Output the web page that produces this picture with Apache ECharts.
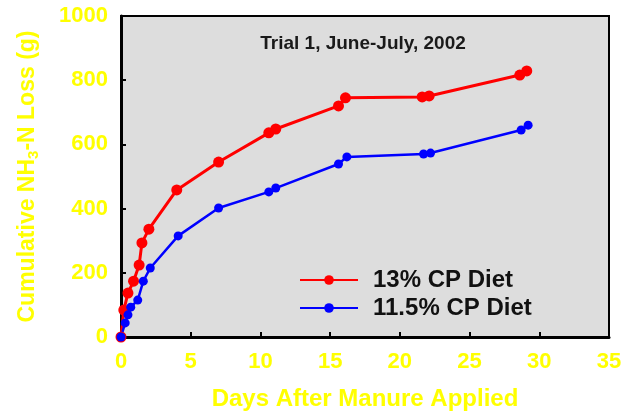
<!DOCTYPE html>
<html>
<head>
<meta charset="utf-8">
<script src="https://cdn.jsdelivr.net/npm/echarts@6/dist/echarts.min.js"></script>
<style>
  html, body { margin: 0; padding: 0; background: #fff; }
  #chart { width: 629px; height: 411px; }
</style>
</head>
<body>
<div id="chart"></div>
<script>
// days after manure applied, cumulative NH3-N loss (g)
const daysHigh = [0, 0.2, 0.5, 0.9, 1.3, 1.5, 2, 4, 7, 10.6, 11.1, 15.6, 16.1, 21.6, 22.1, 28.6, 29.1];
const lossHigh = [0, 84, 137, 174, 224, 293, 336, 458, 545, 636, 648, 720, 745, 748, 751, 816, 829];
const daysLow = [0, 0.3, 0.5, 0.7, 1.2, 1.6, 2.1, 4.1, 7, 10.6, 11.1, 15.6, 16.2, 21.7, 22.2, 28.7, 29.2];
const lossLow = [0, 44, 69, 93, 115, 174, 215, 315, 402, 452, 464, 539, 561, 570, 573, 645, 660];
const seriesNames = ['13% CP Diet', '11.5% CP Diet'];

const yellow = '#ffff00';
const font = 'Liberation Sans, Arial, sans-serif';

let chart = echarts.init(document.getElementById('chart'));
let option = {
  animation: false,
  title: {
    text: 'Trial 1, June-July, 2002',
    left: 358,
    top: 29,
    textAlign: 'center',
    textStyle: { color: '#1a1a1a', fontSize: 19, fontWeight: 'bold', fontFamily: font }
  },
  legend: {
    orient: 'vertical',
    left: 299,
    top: 268,
    padding: 0,
    itemWidth: 58,
    itemHeight: 12,
    itemGap: 4,
    data: seriesNames,
    textStyle: { color: '#111', fontSize: 24, fontWeight: 'bold', fontFamily: font, padding: [0, 0, 0, 10] }
  },
  grid: {
    left: 121,
    right: 20,
    top: 16,
    bottom: 74,
    outerBoundsMode: 'none',
    show: true,
    backgroundColor: '#dddddd',
    borderColor: '#000',
    borderWidth: 2
  },
  xAxis: {
    type: 'value',
    min: 0,
    max: 35,
    interval: 5,
    name: 'Days After Manure Applied',
    nameLocation: 'middle',
    nameGap: 50,
    nameTextStyle: { color: yellow, fontSize: 24, fontWeight: 'bold', fontFamily: font },
    axisLine: { lineStyle: { color: '#000', width: 3 } },
    axisTick: { inside: true, length: 5, lineStyle: { color: '#000', width: 2 } },
    axisLabel: { color: yellow, fontSize: 22, fontWeight: 'bold', fontFamily: font, margin: 14 },
    splitLine: { show: false }
  },
  yAxis: {
    type: 'value',
    min: 0,
    max: 1000,
    interval: 200,
    name: '{a|Cumulative NH}{sub|3}{a|-N Loss (g)}',
    nameLocation: 'middle',
    nameGap: 80,
    nameTextStyle: {
      color: yellow, fontSize: 23, fontWeight: 'bold', fontFamily: font,
      rich: {
        a: { color: yellow, fontSize: 23, fontWeight: 'bold', fontFamily: font },
        sub: { color: yellow, fontSize: 15, fontWeight: 'bold', fontFamily: font, padding: [12, 0, 0, 0] }
      }
    },
    axisLine: { show: true, lineStyle: { color: '#000', width: 3 } },
    axisTick: { show: true, inside: true, length: 5, lineStyle: { color: '#000', width: 2 } },
    axisLabel: {
      color: yellow, fontSize: 22, fontWeight: 'bold', fontFamily: font, margin: 13,
      formatter: v => String(v)
    },
    splitLine: { show: false }
  },
  series: [
    {
      name: seriesNames[0],
      type: 'line',
      data: daysHigh.map((d, i) => [d, lossHigh[i]]),
      color: '#ff0000',
      symbol: 'circle',
      symbolSize: 11,
      lineStyle: { width: 3 }
    },
    {
      name: seriesNames[1],
      type: 'line',
      data: daysLow.map((d, i) => [d, lossLow[i]]),
      color: '#0000ff',
      symbol: 'circle',
      symbolSize: 9,
      lineStyle: { width: 2.5 }
    }
  ]
};
chart.setOption(option);
</script>
</body>
</html>
